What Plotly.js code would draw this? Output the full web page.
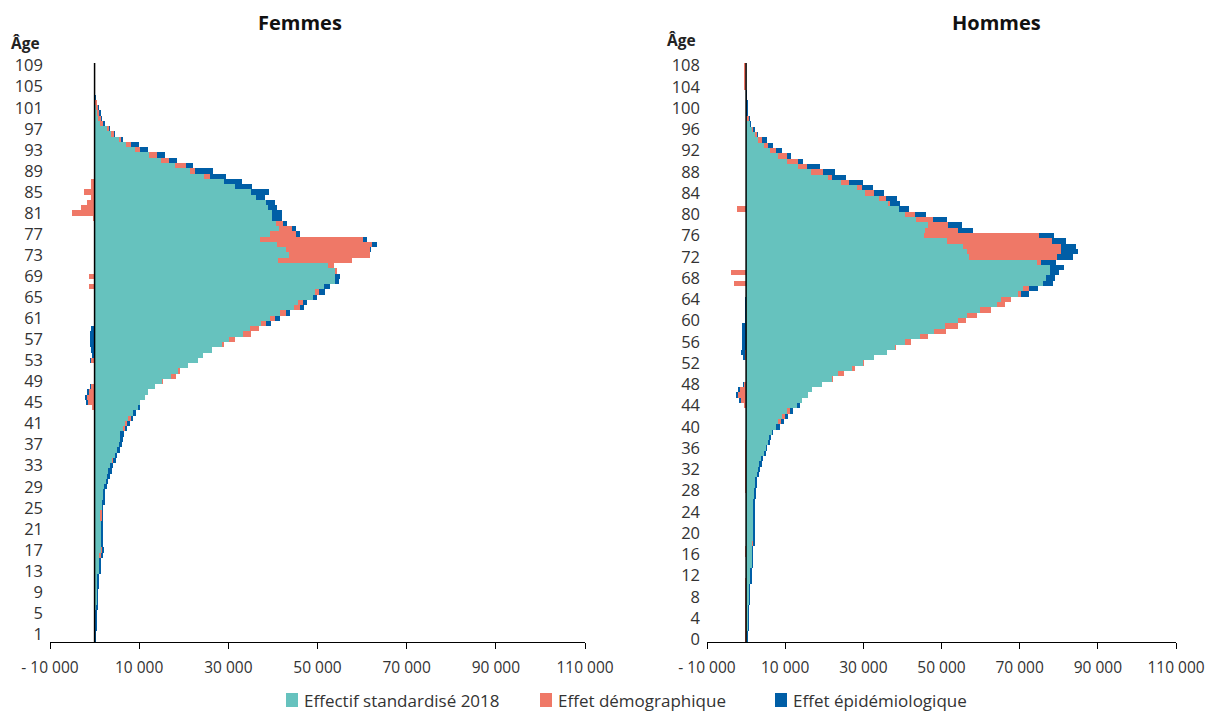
<!DOCTYPE html>
<html>
<head>
<meta charset="utf-8">
<script src="https://cdn.plot.ly/plotly-3.0.1.min.js"></script>
<style>html,body{margin:0;padding:0;background:#fff;}#chart{width:1205px;height:711px;}</style>
</head>
<body>
<div id="chart"></div>
<script>
// ---------- DATA ----------
var seriesNames = ["Effectif standardisé 2018", "Effet démographique", "Effet épidémiologique"];

// Femmes : âges 0 à 109
var femmesTeal = [150,150,160,170,180,200,420,440,460,480,
600,610,620,1040,1050,1060,1060,1440,1440,1440,
1440,1440,1440,1300,1300,1590,1750,1800,1850,2110,
2560,2710,3080,3460,3860,4600,4950,5500,5650,5800,
6300,6800,7600,8700,9800,10200,11200,11900,13600,15200,
17100,18800,20900,23100,24400,26300,28500,30200,33400,34900,
37400,39300,41650,44660,45700,48900,49500,51500,54000,54000,
54000,52400,41200,43500,42900,41000,37200,39300,41380,40630,
39880,39880,38910,38540,36140,35170,31430,29040,24500,21500,
18100,14980,12280,9140,7120,5400,3750,2860,1200,760,
460,310,150,80,60,50,50,40,40,30];
var femmesDemo = [-100,-100,-100,0,0,0,0,0,0,0,
-100,-100,0,0,0,0,370,300,0,0,
0,0,0,300,300,0,0,0,0,0,
0,0,0,0,300,0,0,0,0,0,
520,520,520,0,-600,-1500,-1600,-1200,-800,220,
1100,370,0,-800,-200,0,500,1200,1650,1870,
1120,1270,1350,1350,1000,0,750,-1250,0,-1250,
400,1300,16500,18200,18800,21300,22900,5800,2920,1650,
-400,-5000,-3000,-1600,-900,-2400,-900,-900,1400,970,
2320,1720,1720,1120,1120,600,600,300,750,600,
600,450,300,-80,-80,-80,-80,-80,-80,-80];
var femmesEpi = [250,250,280,280,300,300,300,300,300,300,
370,370,370,370,370,370,370,370,370,370,
370,370,370,300,300,370,520,520,520,600,
520,750,750,600,600,500,750,600,650,700,
520,600,600,600,370,-400,-500,-400,-300,0,
0,0,-200,-300,-300,-900,-1000,-1000,-1000,-900,
970,1120,900,960,1050,1050,1500,1200,900,1100,
0,0,0,0,300,1000,1100,1000,970,970,
2100,2170,2020,2020,2020,4040,3960,4040,3600,4000,
1700,1800,1720,1720,1650,450,300,300,300,220,
300,300,200,150,120,120,120,120,120,120];

// Hommes : âges 0 à 108
var hommesTeal = [260,260,430,430,430,430,430,680,680,680,
680,1020,1020,1020,1540,1540,1540,1540,1540,1880,
1880,1880,1880,1880,1880,1880,1880,2050,2050,2390,
2390,2730,2990,3410,3750,4610,5120,5700,5970,6570,
7680,8100,9300,10500,13000,14240,15780,16980,19530,21920,
23630,27210,30030,32840,36000,38130,40690,44530,48110,50930,
54170,56640,59880,64150,65170,69520,70970,76090,76680,77790,
77790,74550,57150,56640,55620,51350,45500,45810,46490,43420,
40690,39150,36250,34030,30300,28300,24300,20900,16600,13400,
10400,8100,6140,4520,2990,2300,1450,940,250,100,
100,80,60,50,30,20,20,20,20];
var hommesDemo = [-400,-400,-400,-400,-400,-400,-400,-400,-400,-400,
-400,-400,0,0,0,0,-400,-400,300,0,
0,0,0,0,0,0,0,0,-350,-350,
-350,-350,-350,-350,-350,-400,-400,-400,0,0,
0,770,600,770,-500,-1300,-2000,-1500,-600,260,
1540,680,260,-300,-300,340,1450,1960,2990,3240,
2050,2560,2820,2130,2640,770,1540,-3100,0,-3900,
0,850,22350,23970,24990,27040,29430,8360,5290,4350,
2560,-2390,600,1710,2300,1280,2050,1190,3160,2130,
2820,2300,1450,1190,1190,430,430,0,500,0,
0,0,0,0,-450,-450,-450,-450,-450];
var hommesEpi = [260,260,340,340,340,340,340,430,430,430,
430,430,430,430,340,340,340,340,340,340,
340,340,340,340,340,340,340,510,510,510,
510,600,600,680,680,510,340,340,430,430,
1100,940,850,850,700,-400,-700,-600,-200,0,
0,0,0,-500,-1100,-1100,-1100,-1100,-1100,-1100,
-400,-400,-400,-400,-400,2130,2300,2560,2390,2300,
3580,3840,4090,4270,3750,3410,3750,3840,3580,3750,
2820,2640,2560,2990,2730,2990,3500,3500,2990,3410,
1450,1110,1540,1110,1190,260,430,340,350,300,
300,300,250,250,0,0,0,0,0];

var femmesAges = femmesTeal.map(function(_, i){ return i; });
var hommesAges = hommesTeal.map(function(_, i){ return i; });
var femmesTicks = [1,5,9,13,17,21,25,29,33,37,41,45,49,53,57,61,65,69,73,77,81,85,89,93,97,101,105,109];
var hommesTicks = [0,4,8,12,16,20,24,28,32,36,40,44,48,52,56,60,64,68,72,76,80,84,88,92,96,100,104,108];
var xTickVals = [-10000,10000,30000,50000,70000,90000,110000];
var xTickText = ["- 10 000","10 000","30 000","50 000","70 000","90 000","110 000"];

// ---------- STYLE ----------
var colors = ["#66C2BE", "#EF7867", "#005EA6"];
var FONT = "Open Sans, sans-serif";
var W = 1205, H = 711;

function mk(x, y, idx, xa, ya) {
  return {
    type: "bar", orientation: "h", x: x, y: y,
    name: seriesNames[idx], xaxis: xa, yaxis: ya,
    marker: {color: colors[idx], line: {width: 0}},
    showlegend: false, hoverinfo: "skip"
  };
}

var data = [
  mk(femmesTeal, femmesAges, 0, "x", "y"),
  mk(femmesDemo, femmesAges, 1, "x", "y"),
  mk(femmesEpi, femmesAges, 2, "x", "y"),
  mk(hommesTeal, hommesAges, 0, "x2", "y2"),
  mk(hommesDemo, hommesAges, 1, "x2", "y2"),
  mk(hommesEpi, hommesAges, 2, "x2", "y2")
];

function xax(dom) {
  return {
    domain: dom, range: [-10000, 110000], tickmode: "array",
    tickvals: xTickVals, ticktext: xTickText,
    ticks: "outside", ticklen: 6, tickwidth: 1, tickcolor: "#000",
    showline: true, linecolor: "#000", linewidth: 1,
    showgrid: false, zeroline: false, fixedrange: true,
    tickfont: {family: FONT, size: 15.5, color: "#333"},
    ticklabelstandoff: 5, automargin: false
  };
}
function yax(dom, rng, ticks, anchor) {
  return {
    domain: dom, range: rng, tickmode: "array", tickvals: ticks,
    ticktext: ticks.map(String), anchor: anchor,
    ticks: "", showline: false, showgrid: false, zeroline: false,
    tickfont: {family: FONT, size: 16.5, color: "#333"},
    ticklabelstandoff: 6, automargin: false, fixedrange: true
  };
}

// custom legend (swatch + text) placed in pixels
var legendX = [286, 540, 775];
var shapes = [
  {type: "line", xref: "x", yref: "y domain", x0: 0, x1: 0, y0: 0, y1: 1, line: {color: "#000", width: 1.5}, layer: "above"},
  {type: "line", xref: "x2", yref: "y2 domain", x0: 0, x1: 0, y0: 0, y1: 1, line: {color: "#000", width: 1.5}, layer: "above"}
];
var annotations = [
  {text: "<b>Femmes</b>", xref: "paper", yref: "paper", x: 300/W, y: 1-23/H, xanchor: "center", yanchor: "middle", showarrow: false, font: {family: FONT, size: 20, color: "#111"}},
  {text: "<b>Hommes</b>", xref: "paper", yref: "paper", x: 997/W, y: 1-23/H, xanchor: "center", yanchor: "middle", showarrow: false, font: {family: FONT, size: 20, color: "#111"}},
  {text: "<b>Âge</b>", xref: "paper", yref: "paper", x: 25/W, y: 1-43/H, xanchor: "center", yanchor: "middle", showarrow: false, font: {family: FONT, size: 15.5, color: "#222"}},
  {text: "<b>Âge</b>", xref: "paper", yref: "paper", x: 681/W, y: 1-40/H, xanchor: "center", yanchor: "middle", showarrow: false, font: {family: FONT, size: 15.5, color: "#222"}}
];
seriesNames.forEach(function(name, i) {
  shapes.push({type: "rect", xref: "paper", yref: "paper",
    x0: legendX[i]/W, x1: (legendX[i]+12)/W, y0: 1-707/H, y1: 1-693/H,
    fillcolor: colors[i], line: {width: 0}, layer: "above"});
  annotations.push({text: name, xref: "paper", yref: "paper", x: (legendX[i]+16)/W, y: 1-700/H,
    xanchor: "left", yanchor: "middle", showarrow: false, font: {family: FONT, size: 17, color: "#333"}});
});

var yDom = [69/711, 648/711];
var layout = {
  width: W, height: H,
  margin: {l: 0, r: 0, t: 0, b: 0},
  paper_bgcolor: "#fff", plot_bgcolor: "#fff",
  barmode: "relative", bargap: 0, showlegend: false,
  font: {family: FONT, color: "#333"},
  xaxis: xax([50/W, 585/W]),
  yaxis: yax(yDom, [-0.5, 109.5], femmesTicks, "x"),
  xaxis2: xax([707/W, 1176/W]),
  yaxis2: yax(yDom, [-0.5, 108.5], hommesTicks, "x2"),
  shapes: shapes,
  annotations: annotations
};

Plotly.newPlot("chart", data, layout, {staticPlot: true, displayModeBar: false});
</script>
</body>
</html>
